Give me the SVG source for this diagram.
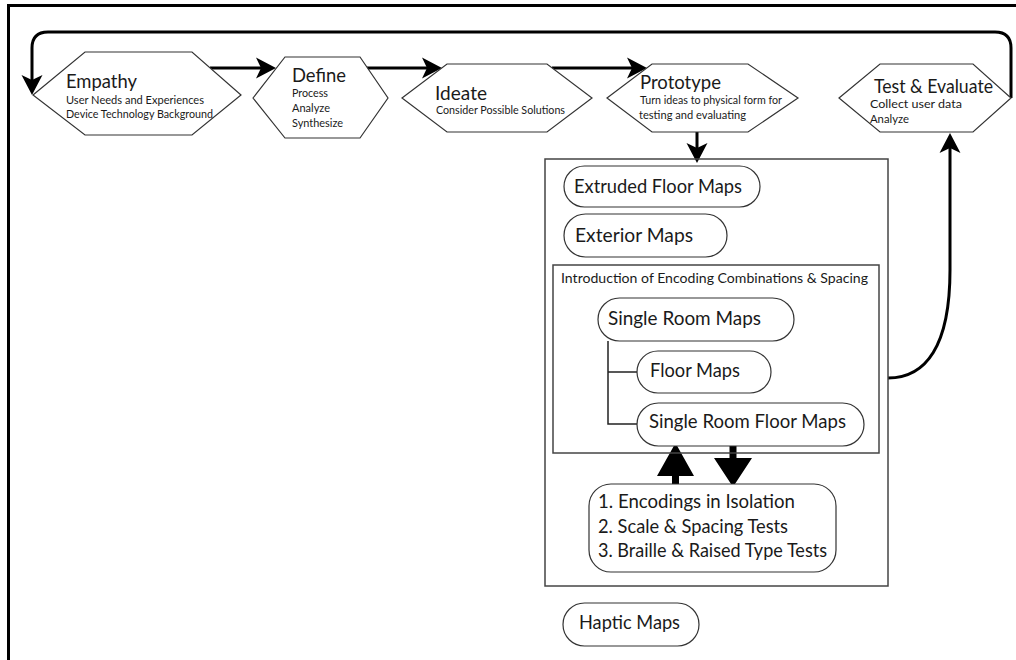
<svg xmlns="http://www.w3.org/2000/svg" width="1016" height="660" viewBox="0 0 1016 660">
<style>
.hex{fill:#fff;stroke:#333;stroke-width:1.2}
.pill{fill:#fff;stroke:#333;stroke-width:1.2}
.box{fill:none;stroke:#444;stroke-width:1.5}
.conn{fill:none;stroke:#000;stroke-width:3}
.thin{fill:none;stroke:#222;stroke-width:1.5}
text{font-family:Lato,"Liberation Sans",sans-serif;fill:#1a1a1a}
.t1{font-size:19px}
.t2{font-size:11.8px}
.t3{font-size:18.6px}
.t4{font-size:14px}
</style>
<defs>
<marker id="ah" markerUnits="userSpaceOnUse" markerWidth="24" markerHeight="24" viewBox="-22 -12 24 24" refX="-10" refY="0" orient="auto">
<path d="M0,0 L-20,-10.5 L-15,0 L-20,10.5 Z" fill="#000"/>
</marker>
</defs>
<rect width="1016" height="660" fill="#fff"/>
<g id="frame">
<path d="M8.5,660 V5.5 H1016" fill="none" stroke="#000" stroke-width="3"/>
</g>
<g id="connectors">
<path class="conn" d="M1011,98 V48 Q1011,32 995,32 H48 Q32,32 32,48 V85" marker-end="url(#ah)"/>
<path class="conn" d="M210,68 H266" marker-end="url(#ah)"/>
<path class="conn" d="M367,68 H432" marker-end="url(#ah)"/>
<path class="conn" d="M552,68 H637" marker-end="url(#ah)"/>
<path class="conn" d="M697,132 V153" marker-end="url(#ah)"/>
<path class="conn" d="M888,378 C926,378 950,346 950,270 V143" marker-end="url(#ah)"/>
<path class="thin" d="M608,341 V424 H637 M608,372 H637"/>
<path d="M672,486 V476 H657 L675.5,443 L694,476 H679 V486 Z" fill="#000"/>
<path d="M729.5,446 V458 H714 L733,487 L752,458 H736.5 V446 Z" fill="#000"/>
</g>
<g id="empathy">
<polygon class="hex" points="33,95 85,52 192,52 241,95 192,135 85,135"/>
<text class="t1" x="66" y="88" textLength="71" lengthAdjust="spacingAndGlyphs">Empathy</text>
<text class="t2" x="66" y="104" textLength="138" lengthAdjust="spacingAndGlyphs">User Needs and Experiences</text>
<text class="t2" x="66" y="118" textLength="147" lengthAdjust="spacingAndGlyphs">Device Technology Background</text>
</g>
<g id="define">
<polygon class="hex" points="253,98 285,57 360,57 388,98 360,138 285,138"/>
<text class="t1" x="292" y="82" textLength="54" lengthAdjust="spacingAndGlyphs">Define</text>
<text class="t2" x="292" y="97" textLength="36" lengthAdjust="spacingAndGlyphs">Process</text>
<text class="t2" x="292" y="112" textLength="38" lengthAdjust="spacingAndGlyphs">Analyze</text>
<text class="t2" x="292" y="127" textLength="51" lengthAdjust="spacingAndGlyphs">Synthesize</text>
</g>
<g id="ideate">
<polygon class="hex" points="402,98 447,64 547,64 592,98 547,132 447,132"/>
<text class="t1" x="435" y="100" textLength="52" lengthAdjust="spacingAndGlyphs">Ideate</text>
<text class="t2" x="436" y="114" textLength="129" lengthAdjust="spacingAndGlyphs">Consider Possible Solutions</text>
</g>
<g id="prototype">
<polygon class="hex" points="607,98 652,64 748,64 798,98 748,132 652,132"/>
<text class="t1" x="640" y="89" textLength="81" lengthAdjust="spacingAndGlyphs">Prototype</text>
<text class="t2" x="640" y="104" textLength="142" lengthAdjust="spacingAndGlyphs">Turn ideas to physical form for</text>
<text class="t2" x="639" y="119" textLength="107" lengthAdjust="spacingAndGlyphs">testing and evaluating</text>
</g>
<g id="test-evaluate">
<polygon class="hex" points="839,98 880,64 973,64 1011,98 973,132 880,132"/>
<text class="t1" x="874" y="93" textLength="119" lengthAdjust="spacingAndGlyphs">Test &amp; Evaluate</text>
<text class="t2" x="870" y="108" textLength="92" lengthAdjust="spacingAndGlyphs">Collect user data</text>
<text class="t2" x="870" y="123" textLength="39" lengthAdjust="spacingAndGlyphs">Analyze</text>
</g>
<g id="prototype-box">
<rect class="box" x="545" y="159" width="343" height="427"/>
</g>
<g id="extruded-floor-maps">
<rect class="pill" x="564" y="166" width="196" height="41" rx="20.5"/>
<text class="t3" x="574" y="193" textLength="168" lengthAdjust="spacingAndGlyphs">Extruded Floor Maps</text>
</g>
<g id="exterior-maps">
<rect class="pill" x="564" y="214" width="163" height="43" rx="21.5"/>
<text class="t3" x="575" y="242" textLength="118" lengthAdjust="spacingAndGlyphs">Exterior Maps</text>
</g>
<g id="encoding-box">
<rect class="box" x="553" y="265" width="326" height="188"/>
<text class="t4" x="561" y="283" textLength="307" lengthAdjust="spacingAndGlyphs">Introduction of Encoding Combinations &amp; Spacing</text>
</g>
<g id="single-room-maps">
<rect class="pill" x="598" y="298" width="196" height="43" rx="21.5"/>
<text class="t3" x="608" y="325" textLength="153" lengthAdjust="spacingAndGlyphs">Single Room Maps</text>
</g>
<g id="floor-maps">
<rect class="pill" x="637" y="351" width="134" height="42" rx="21"/>
<text class="t3" x="650" y="377" textLength="90" lengthAdjust="spacingAndGlyphs">Floor Maps</text>
</g>
<g id="single-room-floor-maps">
<rect class="pill" x="637" y="403" width="227" height="43" rx="21.5"/>
<text class="t3" x="649" y="428" textLength="197" lengthAdjust="spacingAndGlyphs">Single Room Floor Maps</text>
</g>
<g id="tests">
<rect class="pill" x="589" y="484" width="247" height="88" rx="22"/>
<text class="t3" x="598" y="508" textLength="197" lengthAdjust="spacingAndGlyphs">1. Encodings in Isolation</text>
<text class="t3" x="598" y="533" textLength="190" lengthAdjust="spacingAndGlyphs">2. Scale &amp; Spacing Tests</text>
<text class="t3" x="598" y="557" textLength="229" lengthAdjust="spacingAndGlyphs">3. Braille &amp; Raised Type Tests</text>
</g>
<g id="haptic-maps">
<rect class="pill" x="563" y="603" width="136" height="43" rx="21.5"/>
<text class="t3" x="579" y="629" textLength="101" lengthAdjust="spacingAndGlyphs">Haptic Maps</text>
</g>
</svg>
